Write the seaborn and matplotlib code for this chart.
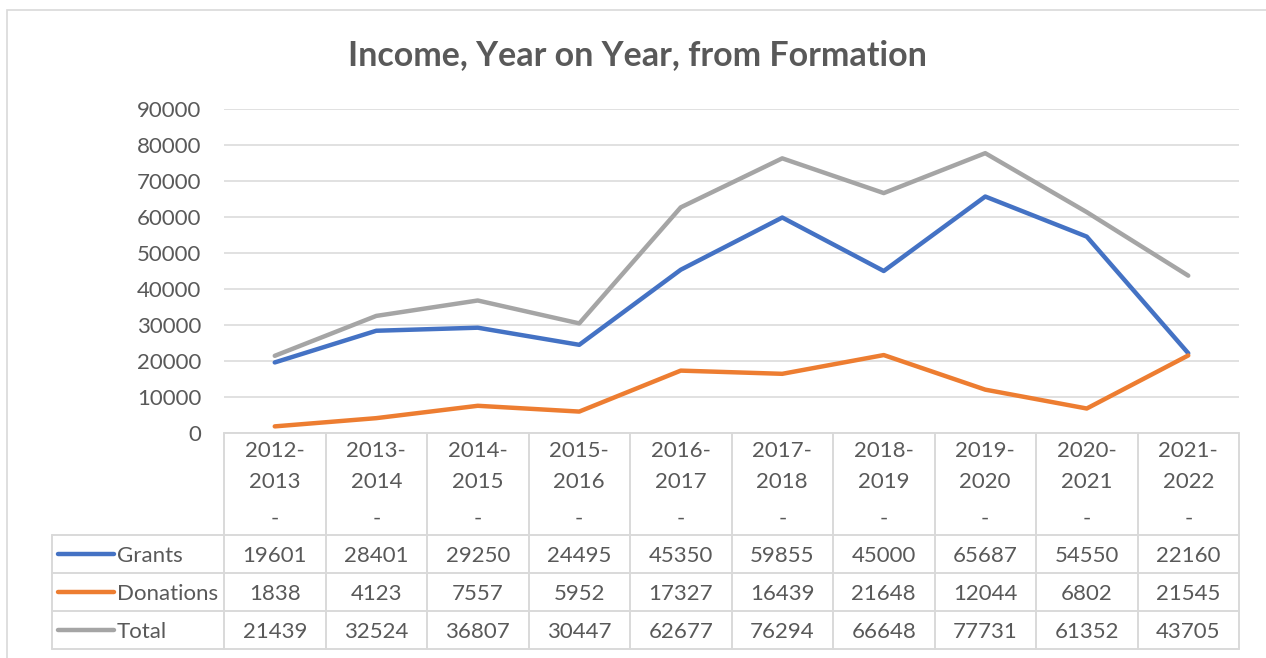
import pandas as pd
import numpy as np
import seaborn as sns
import matplotlib.pyplot as plt
from matplotlib.patches import Rectangle

years = ['2012-2013', '2013-2014', '2014-2015', '2015-2016', '2016-2017',
         '2017-2018', '2018-2019', '2019-2020', '2020-2021', '2021-2022']
grants = [19601, 28401, 29250, 24495, 45350, 59855, 45000, 65687, 54550, 22160]
donations = [1838, 4123, 7557, 5952, 17327, 16439, 21648, 12044, 6802, 21545]
total = [21439, 32524, 36807, 30447, 62677, 76294, 66648, 77731, 61352, 43705]
series_names = ['Grants', 'Donations', 'Total']
colors = ['#4472C4', '#ED7D31', '#A5A5A5']

series = [grants, donations, total]
df = pd.DataFrame({
    'idx': list(range(len(years))) * 3,
    'value': grants + donations + total,
    'series': [s for s in series_names for _ in years],
})

sns.set_style('white')
plt.rcParams['font.family'] = ['Lato', 'DejaVu Sans']
txt = '#595959'
grid = '#D9D9D9'

W, H = 1266, 658
fig = plt.figure(figsize=(W / 100, H / 100), dpi=100)

def px_axes(x0, y0, x1, y1):
    return fig.add_axes([x0 / W, 1 - y1 / H, (x1 - x0) / W, (y1 - y0) / H])

# outer chart border (cropped at right/bottom)
fig.patches.append(Rectangle((7 / W, -0.1), 1.2, 1 - 10 / H + 0.1,
                             transform=fig.transFigure, fill=False,
                             edgecolor=grid, lw=1.2))

fs = 16

ax = px_axes(224, 109, 1239, 433)
sns.lineplot(data=df, x='idx', y='value', hue='series', palette=colors,
             linewidth=3.2, ax=ax, legend=False, sort=False)
ax.set_xlim(-0.5, len(years) - 0.5)
ax.set_ylim(0, 90000)
ax.set_yticks(range(0, 90001, 10000))
ax.set_yticklabels([str(v) for v in range(0, 90001, 10000)], color=txt, fontsize=fs)
ax.tick_params(axis='y', length=0, pad=16.5)
ax.set_xticks([])
ax.set_xlabel('')
ax.set_ylabel('')
ax.grid(axis='y', color=grid, lw=1.1)
ax.set_axisbelow(True)
for s in ax.spines.values():
    s.set_visible(False)

fig.text(637 / W, 1 - 55 / H, 'Income, Year on Year, from Formation',
         ha='center', va='center', fontsize=24.5, fontweight='bold', color=txt)

# data table
unit = (1239 - 224) / len(years)
left = -0.5 - (224 - 52) / unit
tab = px_axes(52, 433, 1239, 649)
tab.set_xlim(left, len(years) - 0.5)
tab.set_ylim(649, 433)
tab.axis('off')
lk = dict(color=grid, lw=1.4, clip_on=False)
tab.plot([-0.5, len(years) - 0.5], [433, 433], **lk)
for i in range(len(years) + 1):
    tab.plot([i - 0.5, i - 0.5], [433, 649], **lk)
tab.plot([left, left], [535, 649], **lk)
rows = [535, 573, 611, 649]
for y in rows:
    tab.plot([left, len(years) - 0.5], [y, y], **lk)

for i, yr in enumerate(years):
    a, b = yr.split('-')
    tab.text(i, 451, a + '-', ha='center', va='center', color=txt, fontsize=fs)
    tab.text(i, 482, b, ha='center', va='center', color=txt, fontsize=fs)
    tab.text(i, 519, '-', ha='center', va='center', color=txt, fontsize=fs)

for r, (name, vals, c) in enumerate(zip(series_names, series, colors)):
    yc = (rows[r] + rows[r + 1]) / 2
    x0 = left + (58 - 52) / unit
    x1 = left + (114 - 52) / unit
    tab.plot([x0, x1], [yc, yc], color=c, lw=3.2, solid_capstyle='round')
    tab.text(left + (117 - 52) / unit, yc + 1.5, name, ha='left', va='center',
             color=txt, fontsize=fs)
    for i, v in enumerate(vals):
        tab.text(i, yc + 1.5, str(v), ha='center', va='center', color=txt, fontsize=fs)

fig.savefig('out.png', dpi=100)
